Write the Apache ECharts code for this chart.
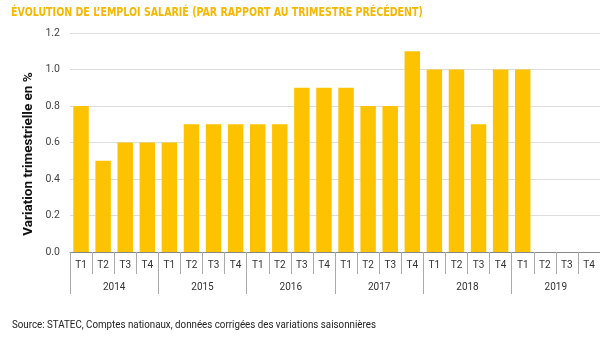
<!DOCTYPE html>
<html>
<head>
<meta charset="utf-8">
<script src="https://cdn.jsdelivr.net/npm/echarts@6/dist/echarts.min.js"></script>
<style>
  html, body { margin: 0; padding: 0; background: #fff; }
  #container { width: 600px; height: 350px; }
</style>
</head>
<body>
<div id="container"></div>
<script>
var quarters = ['T1', 'T2', 'T3', 'T4', 'T1', 'T2', 'T3', 'T4', 'T1', 'T2', 'T3', 'T4',
                'T1', 'T2', 'T3', 'T4', 'T1', 'T2', 'T3', 'T4', 'T1', 'T2', 'T3', 'T4'];
var years = ['2014', '2015', '2016', '2017', '2018', '2019'];
var variation = [0.8, 0.5, 0.6, 0.6,
                 0.6, 0.7, 0.7, 0.7,
                 0.7, 0.7, 0.9, 0.9,
                 0.9, 0.8, 0.8, 1.1,
                 1.0, 1.0, 0.7, 1.0,
                 1.0, null, null, null];

var myChart = echarts.init(document.getElementById('container'));

var option = {
  animation: false,
  graphic: [{
    type: 'text',
    x: 11,
    y: 13,
    scaleX: 0.88,
    style: {
      text: 'ÉVOLUTION DE L\u2019EMPLOI SALARIÉ (PAR RAPPORT AU TRIMESTRE PRÉCÉDENT)',
      fill: '#F5B800',
      fontSize: 12,
      fontWeight: 'bold',
      fontFamily: '"DejaVu Sans Condensed", sans-serif',
      verticalAlign: 'middle'
    }
  }, {
    type: 'text',
    left: 12,
    top: 320,
    scaleX: 0.93,
    style: {
      text: 'Source: STATEC, Comptes nationaux, données corrigées des variations saisonnières',
      fill: '#222',
      fontSize: 10.5,
      fontFamily: 'Roboto, sans-serif'
    }
  }, {
    type: 'text',
    x: 29,
    y: 154,
    rotation: Math.PI / 2,
    style: {
      text: 'Variation trimestrielle en %',
      fill: '#111',
      fontSize: 13.5,
      fontWeight: 'bold',
      fontFamily: 'Roboto, sans-serif',
      align: 'center',
      verticalAlign: 'middle'
    }
  }],
  grid: {
    left: 70,
    right: 0,
    top: 33,
    bottom: 98
  },
  xAxis: [{
    type: 'category',
    data: quarters,
    axisLine: { lineStyle: { color: '#888' } },
    axisTick: { show: true, interval: 0, length: 22, lineStyle: { color: '#aaa' } },
    axisLabel: { interval: 0, margin: 8, color: '#333', fontSize: 10, fontFamily: 'Roboto, sans-serif' }
  }, {
    type: 'category',
    data: years,
    position: 'bottom',
    axisLine: { show: false },
    axisTick: { show: true, interval: 0, length: 42, lineStyle: { color: '#aaa' } },
    axisLabel: { margin: 30, color: '#333', fontSize: 10, fontFamily: 'Roboto, sans-serif' }
  }],
  yAxis: {
    type: 'value',
    min: 0,
    max: 1.2,
    interval: 0.2,
    axisLine: { show: false },
    axisTick: { show: false },
    axisLabel: {
      color: '#444',
      fontSize: 10.5,
      margin: 10,
      fontFamily: 'Roboto, sans-serif',
      formatter: function (v) { return v.toFixed(1); }
    },
    splitLine: { lineStyle: { color: '#ddd' } }
  },
  series: [{
    name: 'Variation',
    type: 'bar',
    xAxisIndex: 0,
    data: variation,
    barCategoryGap: '30%',
    itemStyle: { color: '#FDC300' }
  }]
};

myChart.setOption(option);
</script>
</body>
</html>
